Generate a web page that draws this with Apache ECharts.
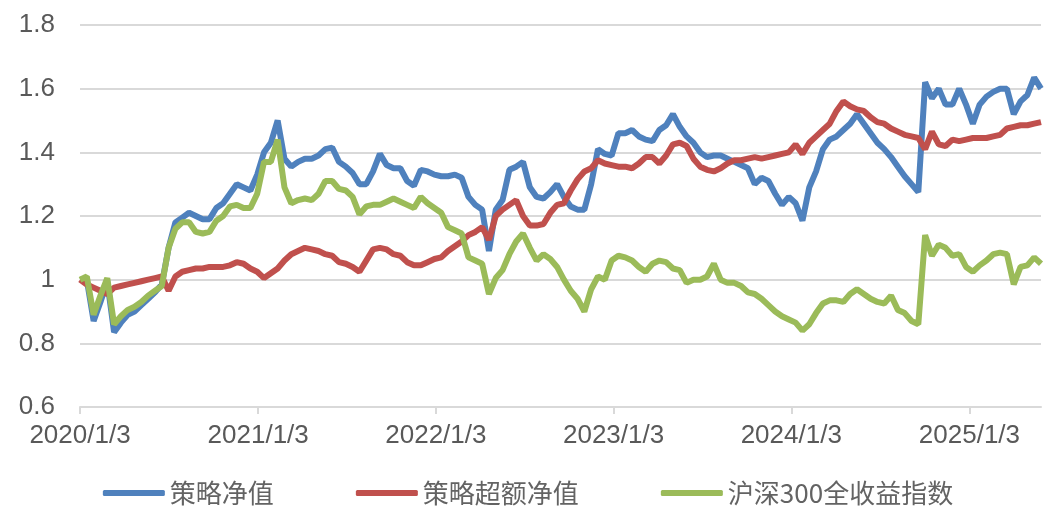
<!DOCTYPE html>
<html>
<head>
<meta charset="utf-8">
<script src="https://cdn.jsdelivr.net/npm/echarts@6/dist/echarts.min.js"></script>
<style>
html,body{margin:0;padding:0;background:#fff;}
#chart{width:1056px;height:513px;}
</style>
</head>
<body>
<div id="chart"></div>
<script>
// Sample dates (biweekly)
const dates = [
'2020/1/3','2020/1/17','2020/1/31','2020/2/14','2020/2/28','2020/3/13','2020/3/27','2020/4/10','2020/4/24','2020/5/8','2020/5/22','2020/6/5','2020/6/19','2020/7/3','2020/7/17','2020/7/31','2020/8/14','2020/8/28','2020/9/11','2020/9/25','2020/10/9','2020/10/23','2020/11/6','2020/11/20','2020/12/4','2020/12/18',
'2021/1/1','2021/1/15','2021/1/29','2021/2/12','2021/2/26','2021/3/12','2021/3/26','2021/4/9','2021/4/23','2021/5/7','2021/5/21','2021/6/4','2021/6/18','2021/7/2','2021/7/16','2021/7/30','2021/8/13','2021/8/27','2021/9/10','2021/9/24','2021/10/8','2021/10/22','2021/11/5','2021/11/19','2021/12/3','2021/12/17','2021/12/31',
'2022/1/14','2022/1/28','2022/2/11','2022/2/25','2022/3/11','2022/3/25','2022/4/8','2022/4/22','2022/5/6','2022/5/20','2022/6/3','2022/6/17','2022/7/1','2022/7/15','2022/7/29','2022/8/12','2022/8/26','2022/9/9','2022/9/23','2022/10/7','2022/10/21','2022/11/4','2022/11/18','2022/12/2','2022/12/16','2022/12/30',
'2023/1/13','2023/1/27','2023/2/10','2023/2/24','2023/3/10','2023/3/24','2023/4/7','2023/4/21','2023/5/5','2023/5/19','2023/6/2','2023/6/16','2023/6/30','2023/7/14','2023/7/28','2023/8/11','2023/8/25','2023/9/8','2023/9/22','2023/10/6','2023/10/20','2023/11/3','2023/11/17','2023/12/1','2023/12/15','2023/12/29',
'2024/1/12','2024/1/26','2024/2/9','2024/2/23','2024/3/8','2024/3/22','2024/4/5','2024/4/19','2024/5/3','2024/5/17','2024/5/31','2024/6/14','2024/6/28','2024/7/12','2024/7/26','2024/8/9','2024/8/23','2024/9/6','2024/9/20','2024/10/4','2024/10/18','2024/11/1','2024/11/15','2024/11/29','2024/12/13','2024/12/27',
'2025/1/10','2025/1/24','2025/2/7','2025/2/21','2025/3/7','2025/3/21','2025/4/4','2025/4/18','2025/5/2','2025/5/16','2025/5/30'
];

// 策略净值
const strategyNav = [
1.00,1.00,0.87,0.93,0.995,0.835,0.865,0.89,0.90,0.92,0.94,0.96,0.985,1.10,1.18,1.195,1.21,1.20,1.19,1.19,1.225,1.24,1.27,1.30,1.29,1.28,
1.33,1.40,1.43,1.50,1.38,1.355,1.37,1.38,1.38,1.39,1.41,1.415,1.37,1.355,1.335,1.30,1.30,1.34,1.395,1.36,1.35,1.35,1.31,1.295,1.345,1.34,1.33,
1.325,1.325,1.33,1.32,1.26,1.235,1.22,1.09,1.22,1.25,1.345,1.355,1.37,1.29,1.26,1.255,1.275,1.30,1.26,1.23,1.22,1.22,1.30,1.41,1.395,1.39,
1.46,1.46,1.47,1.45,1.44,1.435,1.47,1.485,1.52,1.48,1.45,1.43,1.40,1.385,1.39,1.39,1.38,1.37,1.36,1.35,1.30,1.32,1.31,1.27,1.235,1.26,
1.24,1.185,1.29,1.34,1.41,1.44,1.45,1.47,1.49,1.52,1.49,1.46,1.43,1.41,1.385,1.355,1.325,1.30,1.275,1.62,1.57,1.60,1.55,1.55,1.60,1.55,
1.49,1.55,1.575,1.59,1.60,1.60,1.52,1.56,1.58,1.635,1.60
];

// 策略超额净值
const excessNav = [
1.00,0.985,0.975,0.965,0.955,0.975,0.98,0.985,0.99,0.995,1.00,1.005,1.01,0.965,1.01,1.025,1.03,1.035,1.035,1.04,1.04,1.04,1.045,1.055,1.05,1.035,
1.025,1.005,1.02,1.035,1.06,1.08,1.09,1.10,1.095,1.09,1.08,1.075,1.055,1.05,1.04,1.025,1.06,1.095,1.10,1.095,1.08,1.075,1.055,1.045,1.045,1.055,1.065,
1.07,1.09,1.105,1.12,1.14,1.15,1.165,1.125,1.20,1.22,1.235,1.25,1.20,1.17,1.17,1.175,1.21,1.235,1.24,1.28,1.315,1.34,1.35,1.375,1.365,1.36,
1.355,1.355,1.35,1.365,1.385,1.385,1.365,1.39,1.425,1.43,1.42,1.38,1.355,1.345,1.34,1.35,1.365,1.375,1.375,1.38,1.385,1.38,1.385,1.39,1.395,1.40,
1.425,1.395,1.43,1.45,1.47,1.49,1.53,1.56,1.545,1.535,1.53,1.51,1.495,1.49,1.475,1.465,1.455,1.45,1.445,1.41,1.465,1.425,1.42,1.44,1.435,1.44,
1.445,1.445,1.445,1.45,1.455,1.475,1.48,1.485,1.485,1.49,1.495
];

// 沪深300全收益指数
const hs300Total = [
1.00,1.01,0.89,0.95,1.005,0.86,0.885,0.905,0.915,0.93,0.95,0.965,0.98,1.10,1.16,1.18,1.18,1.15,1.145,1.15,1.185,1.20,1.23,1.235,1.225,1.225,
1.27,1.37,1.37,1.44,1.29,1.24,1.25,1.255,1.25,1.27,1.31,1.31,1.285,1.28,1.26,1.205,1.23,1.235,1.235,1.245,1.255,1.245,1.235,1.225,1.26,1.24,1.225,
1.21,1.165,1.155,1.145,1.07,1.06,1.05,0.955,1.005,1.03,1.08,1.12,1.145,1.10,1.06,1.08,1.065,1.04,1.00,0.965,0.94,0.90,0.97,1.01,1.00,1.06,
1.075,1.07,1.06,1.04,1.025,1.05,1.06,1.055,1.035,1.03,0.99,1.00,1.00,1.01,1.05,1.00,0.99,0.99,0.98,0.96,0.955,0.94,0.92,0.90,0.885,0.875,
0.865,0.84,0.86,0.895,0.925,0.935,0.935,0.93,0.955,0.97,0.955,0.94,0.93,0.925,0.95,0.905,0.895,0.87,0.86,1.14,1.075,1.11,1.10,1.075,1.08,1.04,
1.025,1.045,1.06,1.08,1.085,1.08,0.985,1.04,1.045,1.07,1.05
];

const tickLabels = ['2020/1/3','2021/1/3','2022/1/3','2023/1/3','2024/1/3','2025/1/3'];
const seriesNames = ['策略净值','策略超额净值','沪深300全收益指数'];

const DAY = 86400000;
function ts(s){ const p = s.split('/').map(Number); return Date.UTC(p[0], p[1]-1, p[2]); }
const t0 = ts(dates[0]);
function dayOf(s){ return Math.round((ts(s) - t0) / DAY); }
function fmt(v){ const d = new Date(t0 + Math.round(v) * DAY); return d.getUTCFullYear() + '/' + (d.getUTCMonth()+1) + '/' + d.getUTCDate(); }
const tickValues = tickLabels.map(dayOf);
function pairs(vals){ return dates.map((d,i) => [dayOf(d), vals[i]]); }

const chart = echarts.init(document.getElementById('chart'), null, {renderer:'canvas'});
const numFont = 'Liberation Sans, Arial, sans-serif';
chart.setOption({
  animation: false,
  backgroundColor: '#ffffff',
  color: ['#4F81BD','#C0504D','#9BBB59'],
  grid: { left: 80, right: 15, top: 25, bottom: 106, outerBoundsMode: 'none' },
  xAxis: {
    type: 'value',
    min: 0,
    max: dayOf(dates[dates.length-1]),
    axisLine: { show: true, lineStyle: { color: '#d9d9d9', width: 2 } },
    axisTick: { show: true, customValues: tickValues, length: 7, lineStyle: { color: '#d9d9d9', width: 2 } },
    axisLabel: { customValues: tickValues, formatter: fmt, fontSize: 26, color: '#595959', fontFamily: numFont, margin: 16 },
    splitLine: { show: false }
  },
  yAxis: {
    type: 'value', min: 0.6, max: 1.8, interval: 0.2,
    axisLine: { show: false }, axisTick: { show: false },
    axisLabel: { formatter: v => String(Math.round(v*10)/10), fontSize: 26, color: '#595959', fontFamily: numFont, margin: 25 },
    splitLine: { lineStyle: { color: '#d9d9d9', width: 2 } }
  },
  legend: {
    left: 'center', top: 475, itemWidth: 62, itemHeight: 6, itemGap: 82, icon: 'roundRect',
    textStyle: { fontSize: 26, color: '#636363', fontFamily: 'Noto Sans CJK SC' },
    data: seriesNames
  },
  series: [
    { name: seriesNames[0], type: 'line', data: pairs(strategyNav), showSymbol: false, symbol: 'none', lineStyle: { width: 6 } },
    { name: seriesNames[1], type: 'line', data: pairs(excessNav), showSymbol: false, symbol: 'none', lineStyle: { width: 6 } },
    { name: seriesNames[2], type: 'line', data: pairs(hs300Total), showSymbol: false, symbol: 'none', lineStyle: { width: 6 } }
  ]
});
</script>
</body>
</html>
